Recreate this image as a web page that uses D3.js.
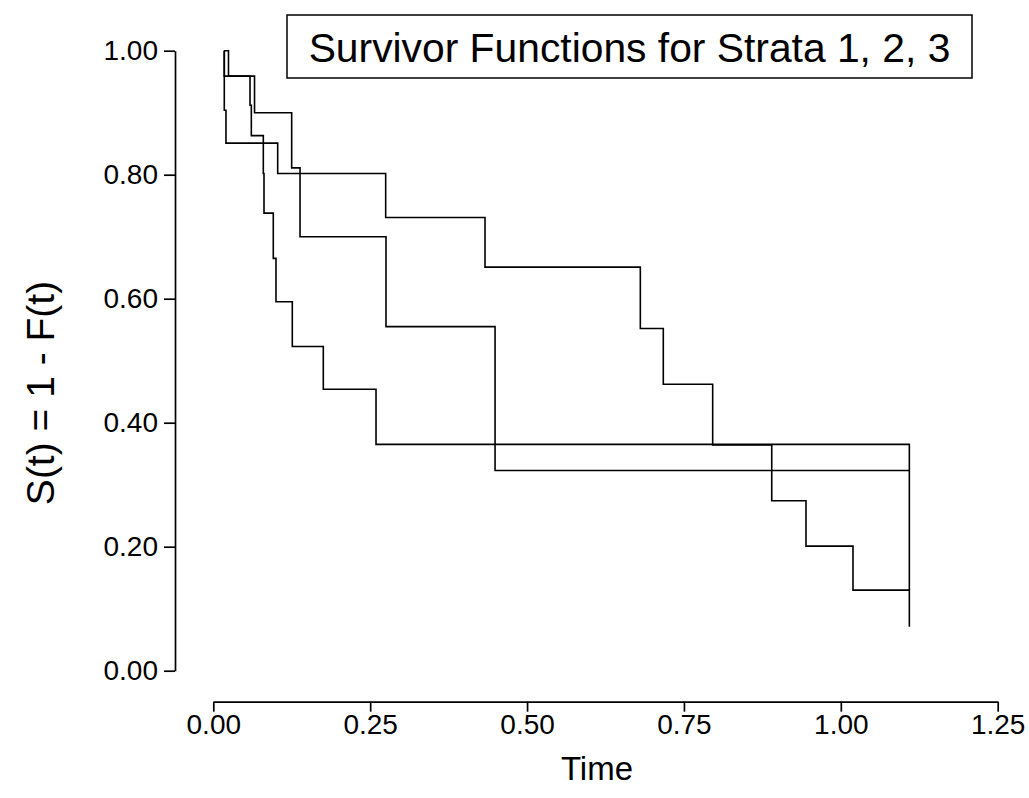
<!DOCTYPE html>
<html>
<head>
<meta charset="utf-8">
<script src="https://cdn.jsdelivr.net/npm/d3@7/dist/d3.min.js"></script>
<style>
  html, body { margin: 0; padding: 0; background: #fff; }
  svg text { font-family: "Liberation Sans", Arial, Helvetica, sans-serif; fill: #000; }
</style>
</head>
<body>
<svg id="chart" width="1029" height="798"></svg>
<script>
// Kaplan-Meier style step estimates: each time is where the curve steps to the value after it.
const stratum1Times    = [0.0171, 0.0175, 0.0202, 0.1026, 0.2747, 0.4330, 0.6805, 0.7171, 0.7958, 0.8899, 0.9445, 1.0194, 1.1092];
const stratum1Survival = [1.000,  0.904,  0.851,  0.802,  0.731,  0.651,  0.552,  0.462,  0.364,  0.274,  0.201,  0.130,  0.071];

const stratum2Times    = [0.0171, 0.0175, 0.0657, 0.1249, 0.1382, 0.2752, 0.4490, 1.1092];
const stratum2Survival = [1.000,  0.959,  0.900,  0.811,  0.700,  0.555,  0.323,  0.323];

const stratum3Times    = [0.0171, 0.0242, 0.0585, 0.0606, 0.0797, 0.0808, 0.0956, 0.0999, 0.1259, 0.1753, 0.2593, 1.1092];
const stratum3Survival = [1.000,  0.959,  0.912,  0.863,  0.802,  0.738,  0.665,  0.595,  0.523,  0.454,  0.365,  0.130];

const xTicks = [0, 0.25, 0.5, 0.75, 1.0, 1.25];
const yTicks = [0, 0.2, 0.4, 0.6, 0.8, 1.0];
const chartTitle = "Survivor Functions for Strata 1, 2, 3";
const xTitle = "Time";
const yTitle = "S(t) = 1 - F(t)";

const svg = d3.select("#chart");

const x = d3.scaleLinear().domain([0, 1.25]).range([213.3, 997.7]);
const y = d3.scaleLinear().domain([0, 1]).range([670.7, 50.7]);

// y axis
const yAxis = svg.append("g")
  .attr("transform", "translate(175,0)")
  .call(d3.axisLeft(y).tickValues(yTicks).tickFormat(d3.format(".2f")).tickSize(11).tickSizeOuter(0).tickPadding(6));

// x axis
const xAxis = svg.append("g")
  .attr("transform", "translate(0,701.7)")
  .call(d3.axisBottom(x).tickValues(xTicks).tickFormat(d3.format(".2f")).tickSize(10).tickSizeOuter(0).tickPadding(2));

[yAxis, xAxis].forEach(g => {
  g.select(".domain").attr("stroke", "#000").attr("stroke-width", 1.7);
  g.selectAll(".tick line").attr("stroke", "#000").attr("stroke-width", 1.7);
  g.selectAll(".tick text")
    .attr("font-family", "'Liberation Sans', Arial, sans-serif")
    .attr("font-size", 28)
    .attr("fill", "#000");
});

// step curves
const stepLine = d3.line()
  .x(d => x(d[0]))
  .y(d => y(d[1]))
  .curve(d3.curveStepAfter);

const strata = [
  d3.zip(stratum1Times, stratum1Survival),
  d3.zip(stratum2Times, stratum2Survival),
  d3.zip(stratum3Times, stratum3Survival)
];

svg.append("g").selectAll("path")
  .data(strata)
  .join("path")
  .attr("d", stepLine)
  .attr("fill", "none")
  .attr("stroke", "#000")
  .attr("stroke-width", 1.6);

// axis titles
svg.append("text")
  .attr("x", 597)
  .attr("y", 780)
  .attr("text-anchor", "middle")
  .attr("font-size", 33)
  .text(xTitle);

svg.append("text")
  .attr("transform", "translate(54,393) rotate(-90)")
  .attr("text-anchor", "middle")
  .attr("font-size", 39)
  .text(yTitle);

// title box
svg.append("rect")
  .attr("x", 287)
  .attr("y", 15)
  .attr("width", 685)
  .attr("height", 63)
  .attr("fill", "#fff")
  .attr("stroke", "#000")
  .attr("stroke-width", 1.5);

svg.append("text")
  .attr("x", 629.5)
  .attr("y", 62)
  .attr("text-anchor", "middle")
  .attr("font-size", 40.8)
  .text(chartTitle);
</script>
</body>
</html>
